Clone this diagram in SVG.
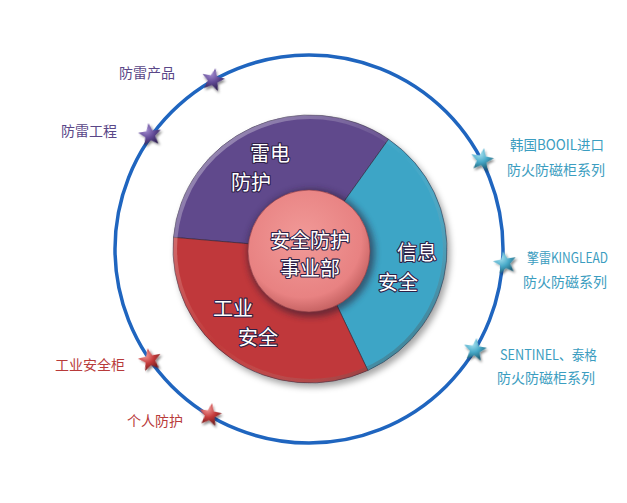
<svg xmlns="http://www.w3.org/2000/svg" xmlns:xlink="http://www.w3.org/1999/xlink" width="627" height="503" viewBox="0 0 627 503">
<style>
.lbl{font-family:"Noto Sans CJK SC","Noto Sans",sans-serif;font-size:14px}
.pl{fill:#5a4788}
.bl{fill:#3b9dc0}
.rl{fill:#b83a3a}
.wt{font-family:"Noto Sans CJK SC","Noto Sans",sans-serif;font-size:20px;fill:#ffffff;stroke:#2e2046;stroke-width:2.2px;paint-order:stroke;stroke-linejoin:round;text-anchor:middle}
.orbit{fill:none;stroke:#1f65bf;stroke-width:3.5}
.seg{stroke:#2a2236;stroke-width:1;stroke-opacity:.55}
</style>
<defs>
<path id="star" d="M0,-12 L3.06,-4.21 L11.41,-3.71 L4.95,1.61 L7.05,9.71 L0,5.2 L-7.05,9.71 L-4.95,1.61 L-11.41,-3.71 L-3.06,-4.21 Z"/>
<radialGradient id="gP" cx="35%" cy="30%" r="75%"><stop offset="0" stop-color="#a48ed0"/><stop offset=".5" stop-color="#634b98"/><stop offset="1" stop-color="#2f2050"/></radialGradient>
<radialGradient id="gB" cx="35%" cy="30%" r="75%"><stop offset="0" stop-color="#a8e2f0"/><stop offset=".5" stop-color="#47a9c8"/><stop offset="1" stop-color="#1d5c72"/></radialGradient>
<radialGradient id="gR" cx="35%" cy="30%" r="75%"><stop offset="0" stop-color="#f09a98"/><stop offset=".5" stop-color="#c63c3c"/><stop offset="1" stop-color="#6e1a1a"/></radialGradient>
<radialGradient id="gPink" cx="45%" cy="40%" r="60%"><stop offset="0" stop-color="#f19a98"/><stop offset=".8" stop-color="#e88282"/><stop offset="1" stop-color="#c86464"/></radialGradient>
<linearGradient id="rim" x1="0" y1="0" x2="1" y2="1"><stop offset="0" stop-color="#ffffff" stop-opacity=".45"/><stop offset=".5" stop-color="#ffffff" stop-opacity="0"/><stop offset="1" stop-color="#000000" stop-opacity=".45"/></linearGradient>
<filter id="sh" x="-20%" y="-20%" width="140%" height="140%"><feDropShadow dx="3" dy="4" stdDeviation="3" flood-color="#000" flood-opacity=".35"/></filter>
<filter id="ssh" x="-50%" y="-50%" width="200%" height="200%"><feDropShadow dx="1.5" dy="2" stdDeviation="1.2" flood-color="#000" flood-opacity=".45"/></filter>
<filter id="blur" x="-20%" y="-20%" width="140%" height="140%"><feGaussianBlur stdDeviation="3"/></filter>
</defs>

<g id="connectors">
<circle class="orbit" cx="309" cy="249" r="194"/>
</g>

<g id="donut" filter="url(#sh)">
<g id="seg-lightning">
<path class="seg" fill="#614a8c" d="M310,249 L173.52,237.32 A137,134 0 0 1 388.58,139.23 Z"/>
</g>
<g id="seg-info">
<path class="seg" fill="#3ea5c6" d="M310,249 L388.58,139.23 A137,134 0 0 1 367.90,370.45 Z"/>
</g>
<g id="seg-industry">
<path class="seg" fill="#c0393a" d="M310,249 L367.90,370.45 A137,134 0 0 1 173.52,237.32 Z"/>
</g>
<ellipse cx="310" cy="249" rx="135" ry="132" fill="none" stroke="url(#rim)" stroke-width="4"/>
</g>

<g id="center">
<circle cx="311" cy="253" r="64" fill="#2a1a30" opacity=".55" filter="url(#blur)"/>
<circle cx="309" cy="251" r="61" fill="url(#gPink)" stroke="#8a3c46" stroke-width="1" stroke-opacity=".6"/>
<text class="wt" x="310" y="247.5">安全防护</text>
<text class="wt" x="310" y="275.5">事业部</text>
</g>

<g id="label-lightning">
<text class="wt" x="270" y="160.5">雷电</text>
<text class="wt" x="251" y="189.5">防护</text>
</g>
<g id="label-info">
<text class="wt" x="417" y="259.5">信息</text>
<text class="wt" x="398" y="289.5">安全</text>
</g>
<g id="label-industry">
<text class="wt" x="233" y="315.5">工业</text>
<text class="wt" x="258" y="344.5">安全</text>
</g>

<g id="node-lightning-products">
<use href="#star" xlink:href="#star" transform="translate(213,80) rotate(12)" fill="url(#gP)" filter="url(#ssh)"/>
<text class="lbl pl" x="175" y="78" text-anchor="end">防雷产品</text>
</g>
<g id="node-lightning-engineering">
<use href="#star" xlink:href="#star" transform="translate(150,135) rotate(-8)" fill="url(#gP)" filter="url(#ssh)"/>
<text class="lbl pl" x="117" y="136" text-anchor="end">防雷工程</text>
</g>
<g id="node-booil">
<use href="#star" xlink:href="#star" transform="translate(482,160) rotate(10)" fill="url(#gB)" filter="url(#ssh)"/>
<text class="lbl bl" x="510" y="150" textLength="94" lengthAdjust="spacingAndGlyphs">韩国BOOIL进口</text>
<text class="lbl bl" x="507" y="175">防火防磁柜系列</text>
</g>
<g id="node-kinglead">
<use href="#star" xlink:href="#star" transform="translate(505,263) rotate(-10)" fill="url(#gB)" filter="url(#ssh)"/>
<text class="lbl bl" x="527" y="263" textLength="81" lengthAdjust="spacingAndGlyphs">擎雷KINGLEAD</text>
<text class="lbl bl" x="523" y="287">防火防磁系列</text>
</g>
<g id="node-sentinel">
<use href="#star" xlink:href="#star" transform="translate(475,350) rotate(8)" fill="url(#gB)" filter="url(#ssh)"/>
<text class="lbl bl" x="500" y="360" textLength="97" lengthAdjust="spacingAndGlyphs">SENTINEL、泰格</text>
<text class="lbl bl" x="497" y="383">防火防磁柜系列</text>
</g>
<g id="node-industrial-cabinet">
<use href="#star" xlink:href="#star" transform="translate(150,360) rotate(-12)" fill="url(#gR)" filter="url(#ssh)"/>
<text class="lbl rl" x="125" y="370" text-anchor="end">工业安全柜</text>
</g>
<g id="node-personal-protection">
<use href="#star" xlink:href="#star" transform="translate(210,415) rotate(10)" fill="url(#gR)" filter="url(#ssh)"/>
<text class="lbl rl" x="183" y="426" text-anchor="end">个人防护</text>
</g>
</svg>
